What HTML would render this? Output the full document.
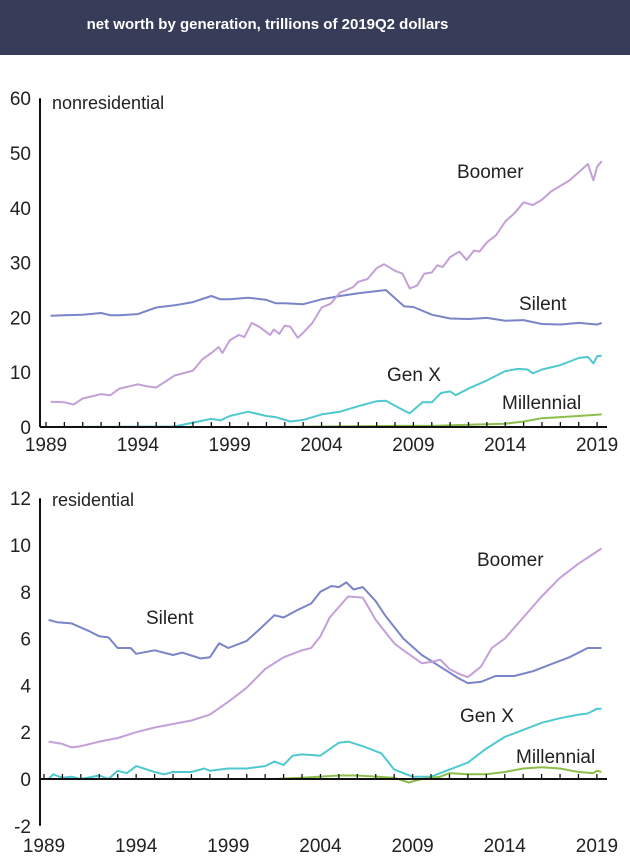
<!DOCTYPE html>
<html><head><meta charset="utf-8">
<style>
body{margin:0;width:630px;height:863px;background:#fff;overflow:hidden;font-family:"Liberation Sans",sans-serif;}
#hdr{position:absolute;left:0;top:0;width:630px;height:55px;background:#373c58;color:#fff;font-weight:bold;font-size:15px;text-align:center;line-height:50px;box-sizing:border-box;padding-right:95px;}
svg{position:absolute;left:0;top:0;}
text{font-family:"Liberation Sans",sans-serif;fill:#222;}
</style></head>
<body>
<div id="hdr">net worth by generation, trillions of 2019Q2 dollars</div>
<svg id="chart" width="630" height="863"></svg>
<script>
// ---- nonresidential data ----
const nrSilentYears=[1989.25,1990,1991,1992,1992.5,1993,1994,1995,1996,1997,1998,1998.5,1999,2000,2001,2001.5,2002,2003,2004,2005,2006,2007,2007.5,2008.5,2009,2010,2011,2012,2013,2014,2015,2016,2017,2018,2019,2019.25];
const nrSilentVals=[20.3,20.4,20.5,20.8,20.4,20.4,20.6,21.8,22.2,22.8,23.9,23.3,23.3,23.6,23.2,22.6,22.6,22.4,23.3,23.9,24.4,24.8,25.0,22.0,21.9,20.5,19.8,19.7,19.9,19.4,19.5,18.8,18.7,19.0,18.7,19.0];
const nrBoomerYears=[1989.25,1990,1990.5,1991,1992,1992.5,1993,1994,1994.5,1995,1996,1997,1997.5,1998,1998.4,1998.6,1999,1999.5,1999.8,2000.2,2000.6,2001.2,2001.4,2001.7,2002,2002.3,2002.7,2003,2003.5,2004,2004.5,2005,2005.7,2006,2006.5,2007,2007.4,2008,2008.4,2008.8,2009.2,2009.6,2010,2010.3,2010.6,2011,2011.5,2011.9,2012.3,2012.6,2013,2013.5,2014,2014.5,2015,2015.5,2016,2016.5,2017,2017.5,2018,2018.5,2018.8,2019,2019.25];
const nrBoomerVals=[4.6,4.5,4.1,5.2,6.0,5.8,7.0,7.8,7.4,7.2,9.4,10.3,12.3,13.5,14.6,13.5,15.8,16.8,16.4,19.0,18.3,16.8,17.8,17.0,18.5,18.3,16.3,17.2,19.0,21.8,22.5,24.5,25.5,26.5,27.0,29.0,29.7,28.5,28.0,25.3,25.8,28.0,28.2,29.5,29.2,31.0,32.0,30.5,32.2,32.0,33.7,35.0,37.5,39.0,41.0,40.5,41.5,43.0,44.0,45.0,46.5,48.0,45.0,47.5,48.5];
const nrGenXYears=[1989.25,1996,1997,1998,1998.5,1999,2000,2001,2001.5,2002.3,2003,2004,2005,2006,2007,2007.5,2008.5,2008.8,2009.5,2010,2010.5,2011,2011.3,2012,2013,2014,2014.7,2015.2,2015.5,2016,2017,2018,2018.5,2018.8,2019,2019.25];
const nrGenXVals=[0,0.1,0.8,1.5,1.2,2.0,2.8,2.0,1.8,1.0,1.3,2.3,2.8,3.8,4.7,4.8,3.0,2.5,4.5,4.5,6.2,6.5,5.8,7.0,8.5,10.2,10.6,10.5,9.8,10.5,11.3,12.6,12.8,11.6,12.9,13.0];
const nrMillYears=[2001.5,2008,2010,2012,2014,2015,2016,2018,2019.25];
const nrMillVals=[0,0.2,0.2,0.4,0.6,1.0,1.6,2.0,2.3];
// ---- residential data ----
const rSilentYears=[1989.25,1989.7,1990.5,1991.5,1992,1992.5,1993,1993.7,1994,1995,1996,1996.5,1997.5,1998,1998.5,1999,2000,2000.7,2001.5,2002,2002.7,2003.5,2004,2004.6,2005,2005.4,2005.8,2006.3,2007,2007.5,2008.5,2009.5,2010.5,2011.5,2012,2012.7,2013.5,2014.5,2015.5,2016.5,2017.5,2018.5,2019.25];
const rSilentVals=[6.8,6.7,6.65,6.3,6.1,6.05,5.6,5.6,5.35,5.5,5.3,5.4,5.15,5.2,5.8,5.6,5.9,6.4,7.0,6.9,7.2,7.5,8.0,8.25,8.2,8.4,8.1,8.2,7.6,7.0,6.0,5.3,4.8,4.3,4.1,4.15,4.4,4.4,4.6,4.9,5.2,5.6,5.6];
const rBoomerYears=[1989.25,1990,1990.5,1991,1992,1993,1994,1995,1996,1997,1998,1999,2000,2001,2002,2003,2003.5,2004,2004.5,2005.5,2006.3,2007,2008,2008.5,2009.5,2010,2010.5,2011,2011.5,2012,2012.7,2013.3,2014,2015,2016,2017,2018,2019.25];
const rBoomerVals=[1.6,1.5,1.35,1.4,1.6,1.75,2.0,2.2,2.35,2.5,2.75,3.3,3.9,4.7,5.2,5.5,5.6,6.1,6.9,7.8,7.75,6.8,5.8,5.5,4.95,5.0,5.1,4.7,4.5,4.35,4.8,5.6,6.0,6.9,7.8,8.6,9.2,9.85];
const rGenXYears=[1989.25,1989.5,1990,1990.5,1991,1992,1992.5,1993,1993.5,1994,1995,1995.5,1996,1997,1997.7,1998,1999,2000,2001,2001.5,2002,2002.5,2003,2004,2005,2005.5,2006.3,2007.3,2008,2009,2010,2011,2012,2013,2014,2015,2016,2017,2018,2018.5,2019,2019.25];
const rGenXVals=[0,0.2,0.05,0.1,0,0.15,0,0.35,0.25,0.55,0.3,0.2,0.3,0.3,0.45,0.35,0.45,0.45,0.55,0.75,0.6,1.0,1.05,1.0,1.55,1.6,1.4,1.1,0.4,0.1,0.1,0.4,0.7,1.3,1.8,2.1,2.4,2.6,2.75,2.8,3.0,3.0];
const rMillYears=[2001.5,2003,2005,2006,2008,2008.8,2009.5,2010.5,2011,2012,2013,2014,2015,2016,2017,2018,2018.8,2019,2019.25];
const rMillVals=[0,0.05,0.15,0.15,0.05,-0.15,0,0.1,0.25,0.2,0.2,0.3,0.45,0.5,0.45,0.3,0.25,0.35,0.3];
// ---- ticks ----
const xTickLabels=[1989,1994,1999,2004,2009,2014,2019];
const nrYTicks=[0,10,20,30,40,50,60];
const rYTicks=[-2,0,2,4,6,8,10,12];

const COLORS={silent:"#7b84c8",boomer:"#c4a0d8",genx:"#4fc8d0",mill:"#8cbf4a"};
const NS="http://www.w3.org/2000/svg";
const svg=document.getElementById('chart');
function mk(tag,attrs,parent){const e=document.createElementNS(NS,tag);for(const k in attrs)e.setAttribute(k,attrs[k]);(parent||svg).appendChild(e);return e;}

function panel(p){
  const g=mk('g',{});
  
  
  const xs=y=>p.x0+(y-1989)*p.xpy;
  const yScale=v=>p.yZero-(v)*p.ppu;
  const ax=mk('line',{x1:p.ax,x2:p.ax,y1:yScale(p.yTicks[p.yTicks.length-1]),y2:yScale(p.yTicks[0]),stroke:'#111','stroke-width':2},g);
  
  
  p.yTicks.forEach(t=>{
    const tx=mk('text',{x:p.ax-9,y:yScale(t)+7,'text-anchor':'end','font-size':19},g);
    tx.textContent=t;
    
    
  });
  p.series.forEach(s=>{
    const d=s.years.map((yr,i)=>(i?'L':'M')+xs(yr).toFixed(1)+' '+yScale(s.vals[i]).toFixed(1)).join(' ');
    const pth=mk('path',{d:d,fill:'none',stroke:s.color,'stroke-width':2,'stroke-linejoin':'round'},g);
    
    
  });
  const xa=mk('line',{x1:p.ax,x2:607,y1:yScale(0),y2:yScale(0),stroke:'#111','stroke-width':2},g);
  
  
  for(let yr=1989;yr<=2019;yr++){
    const tk=mk('line',{x1:xs(yr),x2:xs(yr),y1:yScale(0),y2:yScale(0)-5,stroke:'#111','stroke-width':1.3},g);
    
    
  }
  xTickLabels.forEach(yr=>{
    const tx=mk('text',{x:xs(yr),y:p.xLabelY,'text-anchor':'middle','font-size':19},g);
    tx.textContent=yr;
    
    
  });
  p.labels.forEach(l=>{
    const tx=mk('text',{x:l[1],y:l[2],'font-size':l[3]},g);
    tx.textContent=l[0];
    
    
  });
}
panel({name:'nonresidential',x0:46,xpy:18.37,ax:40,yZero:427,ppu:5.48,yTicks:nrYTicks,xLabelY:451,
  series:[{key:'silent',years:nrSilentYears,vals:nrSilentVals,color:COLORS.silent},
          {key:'boomer',years:nrBoomerYears,vals:nrBoomerVals,color:COLORS.boomer},
          {key:'genx',years:nrGenXYears,vals:nrGenXVals,color:COLORS.genx},
          {key:'millennial',years:nrMillYears,vals:nrMillVals,color:COLORS.mill}],
  labels:[['nonresidential',52,109,18,'panel-title'],['Boomer',457,178,19,'boomer-label'],['Silent',519,310,19,'silent-label'],['Gen X',387,381,19,'genx-label'],['Millennial',502,409,19,'millennial-label']]});
panel({name:'residential',x0:44,xpy:18.43,ax:40,yZero:779,ppu:23.4,yTicks:rYTicks,xLabelY:852,
  series:[{key:'silent',years:rSilentYears,vals:rSilentVals,color:COLORS.silent},
          {key:'boomer',years:rBoomerYears,vals:rBoomerVals,color:COLORS.boomer},
          {key:'genx',years:rGenXYears,vals:rGenXVals,color:COLORS.genx},
          {key:'millennial',years:rMillYears,vals:rMillVals,color:COLORS.mill}],
  labels:[['residential',52,506,18,'panel-title'],['Boomer',477,566,19,'boomer-label'],['Silent',146,624,19,'silent-label'],['Gen X',460,722,19,'genx-label'],['Millennial',516,763,19,'millennial-label']]});
</script>
</body></html>
